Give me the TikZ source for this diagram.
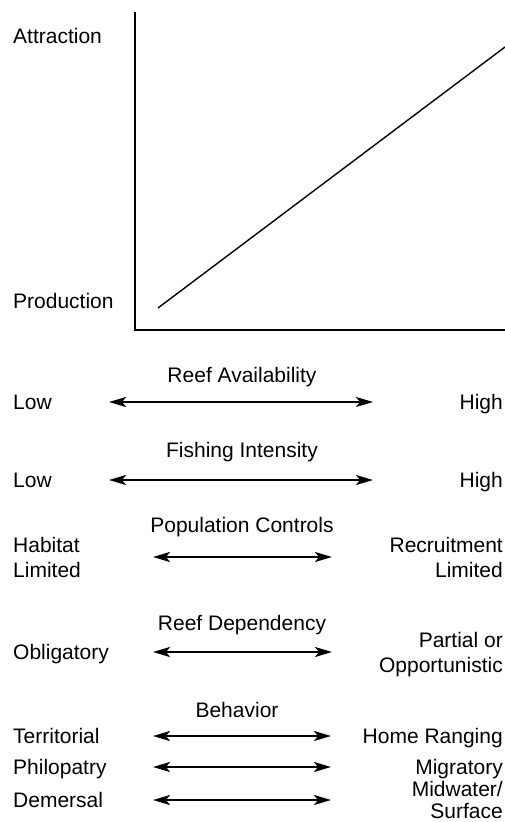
\documentclass[tikz,border=0pt]{standalone}
\usepackage{fontspec}
\setmainfont{Liberation Sans}
\usetikzlibrary{positioning, arrows.meta}

\begin{document}
\begin{tikzpicture}[x=1pt, y=-1pt, font=\fontsize{21}{25}\selectfont,
    lbl/.style={anchor=west, inner sep=0pt, align=left, text depth=0pt},
    rbl/.style={anchor=east, inner sep=0pt, align=right, text depth=0pt},
    ttl/.style={inner sep=0pt, text depth=0pt},
    twoway/.style={{Stealth[length=17pt,width=10pt,inset=4pt]}-{Stealth[length=17pt,width=10pt,inset=4pt]}, line width=2.2pt}]
    \useasboundingbox (0,0) rectangle (505,822);
    % graph
    \coordinate (top) at (135,12);
    \coordinate (origin) at (135,330);
    \coordinate (xend) at (505,330);
    \draw[line width=1.6pt] (top) -- (origin) -- (xend);
    \coordinate (lo) at (158,308);
    \coordinate (hi) at (505,47);
    \draw[line width=1.4pt] (lo) -- (hi);
    \node[lbl] (attr) at (13,36) {Attraction};
    \node[lbl] (prod) at (13,301) {Production};
    % scales
    \foreach \n/\y/\t in {avail/375/Reef Availability, fish/450/Fishing Intensity,
        pop/525/Population Controls, dep/623/Reef Dependency} {
        \node[ttl] (\n-t) at (242,\y) {\t};
    }
    \node[ttl] (beh-t) at (237,710) {Behavior};
    \foreach \n/\y/\xa/\xb/\l/\r in {avail/402/109/373/Low/High,
        fish/480/109/373/Low/High,
        pop/557/153/332/{Habitat\\Limited}/{Recruitment\\Limited},
        dep/652/153/332/Obligatory/{Partial or\\Opportunistic},
        terr/736/153/331/Territorial/Home Ranging,
        phil/767/153/331/Philopatry/Migratory,
        dem/800/153/331/Demersal/{Midwater/\\[-3pt]Surface}} {
        \coordinate (\n-a) at (\xa,\y);
        \coordinate (\n-b) at (\xb,\y);
        \draw[twoway] (\n-a) -- (\n-b);
        \node[lbl] (\n-l) at (13,\y) {\l};
        \node[rbl] (\n-r) at (503,\y) {\r};
    }
\end{tikzpicture}
\end{document}
